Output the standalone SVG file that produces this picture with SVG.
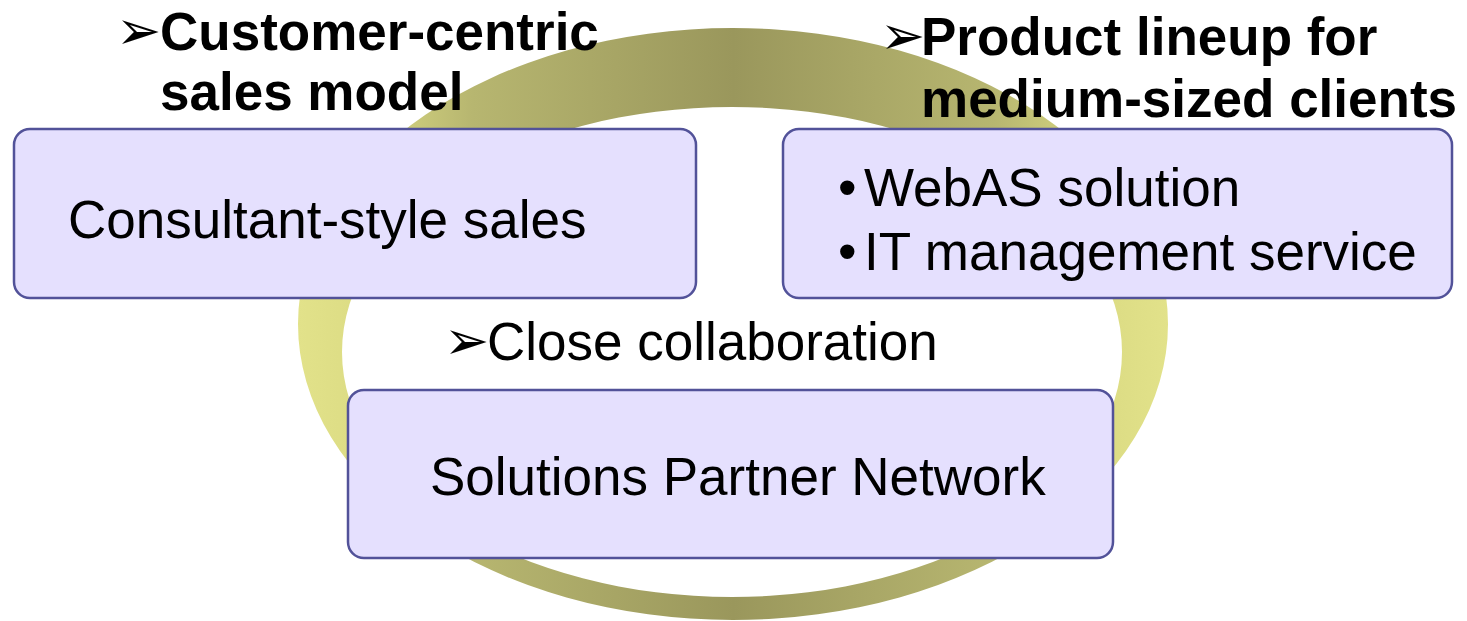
<svg xmlns="http://www.w3.org/2000/svg" width="1467" height="621" viewBox="0 0 1467 621">
<defs>
<linearGradient id="ring" x1="298" y1="0" x2="1169" y2="0" gradientUnits="userSpaceOnUse">
<stop offset="0" stop-color="#e2e28a"/>
<stop offset="0.07" stop-color="#dcdc84"/>
<stop offset="0.2" stop-color="#b7b670"/>
<stop offset="0.5" stop-color="#9a975c"/>
<stop offset="0.8" stop-color="#b7b670"/>
<stop offset="0.93" stop-color="#dcdc84"/>
<stop offset="1" stop-color="#e2e28a"/>
</linearGradient>
<style>
.box{fill:#e5e0fe;stroke:#525299;stroke-width:2.5}
.t{font-family:"Liberation Sans",Arial,sans-serif;font-size:53px;fill:#000}
.b{font-weight:bold}
.arr{font-family:"DejaVu Sans",sans-serif;font-size:54px;fill:#000}
</style>
</defs>
<g id="ring-bg">
<path fill="url(#ring)" fill-rule="evenodd" d="M298,324 A435,296 0 1,0 1168,324 A435,296 0 1,0 298,324 Z M342,352 A390,245 0 1,1 1122,352 A390,245 0 1,1 342,352 Z"/>
</g>
<g id="label-customer">
<text class="arr" x="116" y="49">➢</text>
<text class="t b" x="160" y="50">Customer-centric</text>
<text class="t b" x="160" y="110">sales model</text>
</g>
<g id="label-product">
<text class="arr" x="880" y="54">➢</text>
<text class="t b" x="921" y="55">Product lineup for</text>
<text class="t b" x="921" y="117">medium-sized clients</text>
</g>
<g id="node-consultant">
<rect class="box" x="14" y="129" width="682" height="169" rx="16"/>
<text class="t" x="68" y="238">Consultant-style sales</text>
</g>
<g id="node-products">
<rect class="box" x="783" y="129" width="669" height="169" rx="16"/>
<text class="t" x="838" y="206">•</text>
<text class="t" x="864" y="206">WebAS solution</text>
<text class="t" x="838" y="270">•</text>
<text class="t" x="864" y="270">IT management service</text>
</g>
<g id="label-close">
<text class="arr" x="444" y="359">➢</text>
<text class="t" x="487" y="360">Close collaboration</text>
</g>
<g id="node-partner">
<rect class="box" x="348" y="390" width="765" height="168" rx="16"/>
<text class="t" x="430" y="495">Solutions Partner Network</text>
</g>
<g id="connectors"></g>
</svg>
